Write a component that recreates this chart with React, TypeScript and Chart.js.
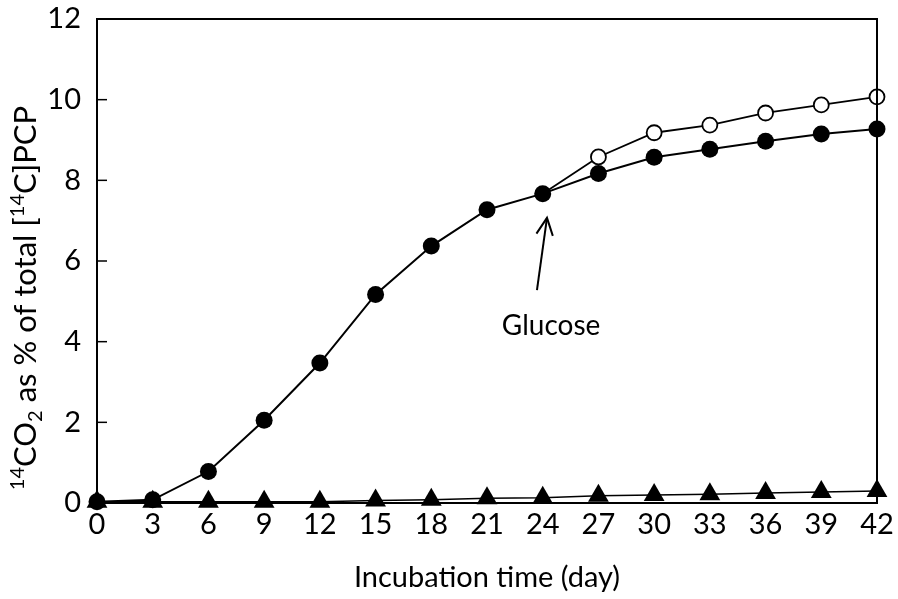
import React, { useEffect, useRef } from "react";
import { Chart, registerables } from "chart.js";

Chart.register(...registerables);

const days = [0, 3, 6, 9, 12, 15, 18, 21, 24, 27, 30, 33, 36, 39, 42];
const pcpOnly = [0.03, 0.08, 0.78, 2.05, 3.47, 5.17, 6.37, 7.27, 7.67, 8.17, 8.57, 8.77, 8.97, 9.15, 9.27];
const withGlucose = [null, null, null, null, null, null, null, null, 7.67, 8.58, 9.18, 9.37, 9.67, 9.87, 10.07];
const control = [0.03, 0.03, 0.03, 0.03, 0.03, 0.06, 0.08, 0.12, 0.13, 0.18, 0.2, 0.22, 0.25, 0.27, 0.3];
const yTicks = [0, 2, 4, 6, 8, 10, 12];
const xTitle = "Incubation time (day)";
const annotationText = "Glucose";

const FONT = "Lato, 'Open Sans', 'DejaVu Sans', sans-serif";

const toPoints = (vals: (number | null)[]) =>
  days.map((d, i) => ({ x: d, y: vals[i] })).filter((p) => p.y !== null);

const boxPlugin = {
  id: "boxAndExtras",
  afterDraw(chart: any) {
    const { ctx, chartArea, scales } = chart;
    const xs = scales.x;
    const ys = scales.y;
    ctx.save();
    // box
    ctx.strokeStyle = "#000";
    ctx.lineWidth = 2;
    ctx.strokeRect(chartArea.left, chartArea.top, chartArea.right - chartArea.left, chartArea.bottom - chartArea.top);
    // inward y ticks
    ctx.lineWidth = 1.5;
    yTicks.forEach((v) => {
      const y = ys.getPixelForValue(v);
      ctx.beginPath();
      ctx.moveTo(chartArea.left, y);
      ctx.lineTo(chartArea.left + 10, y);
      ctx.stroke();
    });
    // arrow
    const tipX = xs.getPixelForValue(24.23);
    const tipY = ys.getPixelForValue(7.07);
    const tailX = xs.getPixelForValue(23.69);
    const tailY = ys.getPixelForValue(5.28);
    ctx.lineWidth = 2;
    ctx.beginPath();
    ctx.moveTo(tailX, tailY);
    ctx.lineTo(tipX, tipY);
    ctx.stroke();
    const ang = Math.atan2(tipY - tailY, tipX - tailX);
    const hl = 19;
    const spread = 0.45;
    ctx.beginPath();
    ctx.moveTo(tipX - hl * Math.cos(ang - spread), tipY - hl * Math.sin(ang - spread));
    ctx.lineTo(tipX, tipY);
    ctx.lineTo(tipX - hl * Math.cos(ang + spread), tipY - hl * Math.sin(ang + spread));
    ctx.stroke();
    // annotation text
    ctx.fillStyle = "#000";
    ctx.font = `28px ${FONT}`;
    ctx.textAlign = "center";
    ctx.textBaseline = "middle";
    ctx.fillText(annotationText, xs.getPixelForValue(24.45), ys.getPixelForValue(4.39));
    // y title with superscripts/subscripts
    const segs = [
      { t: "14", k: "sup" },
      { t: "CO", k: "n" },
      { t: "2", k: "sub" },
      { t: " as % of total [", k: "n" },
      { t: "14", k: "sup" },
      { t: "C]PCP", k: "n" },
    ];
    const big = `31px ${FONT}`;
    const small = `20px ${FONT}`;
    let total = 0;
    segs.forEach((s) => {
      ctx.font = s.k === "n" ? big : small;
      total += ctx.measureText(s.t).width;
    });
    const cy = (chartArea.top + chartArea.bottom) / 2 + 37;
    ctx.translate(0, cy);
    ctx.rotate(-Math.PI / 2);
    ctx.textAlign = "left";
    ctx.textBaseline = "alphabetic";
    let x = -total / 2;
    segs.forEach((s) => {
      ctx.font = s.k === "n" ? big : small;
      const dy = s.k === "sup" ? -12 : s.k === "sub" ? 6 : 0;
      ctx.fillText(s.t, x, 36 + dy);
      x += ctx.measureText(s.t).width;
    });
    ctx.restore();
  },
};

export default function App() {
  const ref = useRef<HTMLCanvasElement | null>(null);
  useEffect(() => {
    if (!ref.current) return;
    const chart = new Chart(ref.current, {
      type: "line",
      data: {
        datasets: [
          {
            label: "control",
            data: toPoints(control),
            borderColor: "#000",
            backgroundColor: "#000",
            borderWidth: 1.5,
            pointStyle: "triangle",
            pointRadius: 12,
            pointBorderWidth: 0,
            clip: false,
          },
          {
            label: "PCP",
            data: toPoints(pcpOnly),
            borderColor: "#000",
            backgroundColor: "#000",
            borderWidth: 2,
            pointStyle: "circle",
            pointRadius: 8.5,
            pointBorderWidth: 0,
            clip: false,
          },
          {
            label: "PCP + glucose",
            data: toPoints(withGlucose),
            borderColor: "#000",
            backgroundColor: "#fff",
            borderWidth: 1.8,
            pointStyle: "circle",
            pointRadius: (c: any) => (c.dataIndex === 0 ? 0 : 7.5),
            pointBorderWidth: 1.8,
            clip: false,
          },
        ] as any,
      },
      options: {
        animation: false,
        responsive: true,
        maintainAspectRatio: false,
        layout: { padding: { left: 0, top: 19, right: 21, bottom: 0 } },
        plugins: { legend: { display: false }, tooltip: { enabled: false } },
        scales: {
          x: {
            type: "linear",
            min: 0,
            max: 42,
            afterFit: (s: any) => {
              s.height = 96;
              s.paddingLeft = 0;
              s.paddingRight = 0;
            },
            ticks: {
              stepSize: 3,
              color: "#000",
              font: { size: 29, family: FONT },
              padding: 4,
            },
            grid: { display: false, drawTicks: false },
            border: { display: true, color: "#000", width: 2 },
            title: {
              display: true,
              text: xTitle,
              color: "#000",
              font: { size: 29, family: FONT },
              padding: { top: 0, bottom: 4 },
            },
          },
          y: {
            min: 0,
            max: 12,
            afterFit: (s: any) => {
              s.width = 97;
              s.paddingTop = 0;
              s.paddingBottom = 0;
            },
            ticks: {
              stepSize: 2,
              color: "#000",
              font: { size: 29, family: FONT },
              padding: 16,
            },
            grid: { display: false, drawTicks: false },
            border: { display: true, color: "#000", width: 2 },
          },
        },
      } as any,
      plugins: [boxPlugin],
    });
    return () => chart.destroy();
  }, []);
  return (
    <div style={{ position: "fixed", left: 0, top: 0, width: 898, height: 599, background: "#fff" }}>
      <canvas ref={ref} />
    </div>
  );
}
